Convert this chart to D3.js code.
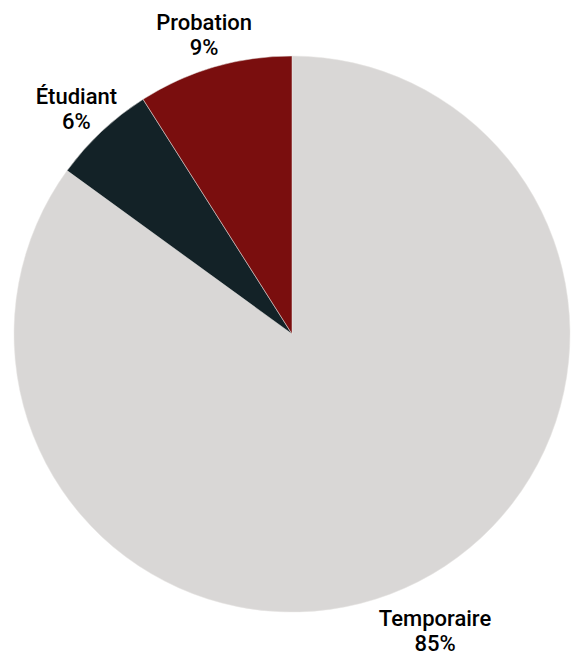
<!DOCTYPE html>
<html>
<head>
<meta charset="utf-8">
<script src="https://cdn.jsdelivr.net/npm/d3@7"></script>
<style>
  body { margin: 0; background: #fff; }
  svg { display: block; font-family: "Roboto", "DejaVu Sans", sans-serif; }
</style>
</head>
<body>
<div id="chart"></div>
<script>
// catégories et parts (%)
const categories = ["Temporaire", "Étudiant", "Probation"];
const values = [85, 6, 9];
const colors = ["#d9d7d6", "#132227", "#7a0e0e"];

const width = 574, height = 653;
const cx = 292, cy = 334, radius = 278;

const svg = d3.select("#chart").append("svg")
  .attr("width", width)
  .attr("height", height);

const g = svg.append("g").attr("transform", `translate(${cx},${cy})`);

const data = categories.map((c, i) => ({ cat: c, val: values[i], color: colors[i] }));

const pie = d3.pie().sort(null).value(d => d.val);
const arc = d3.arc().innerRadius(0).outerRadius(radius);
const arcs = pie(data);

g.selectAll("path")
  .data(arcs)
  .join("path")
    .attr("d", arc)
    .attr("fill", d => d.data.color)
    .attr("stroke", "#e8e6e5")
    .attr("stroke-width", 0.5);

// étiquettes à l'extérieur, poussées verticalement selon l'angle
const labelR = 307;
const fmt = d => d + "%";

const labels = g.selectAll("g.lbl")
  .data(arcs)
  .join("g")
    .attr("class", "lbl")
    .attr("transform", d => {
      const a = (d.startAngle + d.endAngle) / 2;
      const x = Math.sin(a) * (labelR + 8);
      const y = -Math.cos(a) * (labelR + 15);
      return `translate(${x},${y})`;
    });

labels.append("text")
  .attr("text-anchor", "middle")
  .attr("y", 5)
  .style("font-size", "22px")
  .style("font-weight", "500")
  .attr("fill", "#000")
  .text(d => d.data.cat);

labels.append("text")
  .attr("text-anchor", "middle")
  .attr("y", 30)
  .style("font-size", "22px")
  .style("font-weight", "500")
  .attr("fill", "#000")
  .text(d => fmt(d.data.val));
</script>
</body>
</html>
